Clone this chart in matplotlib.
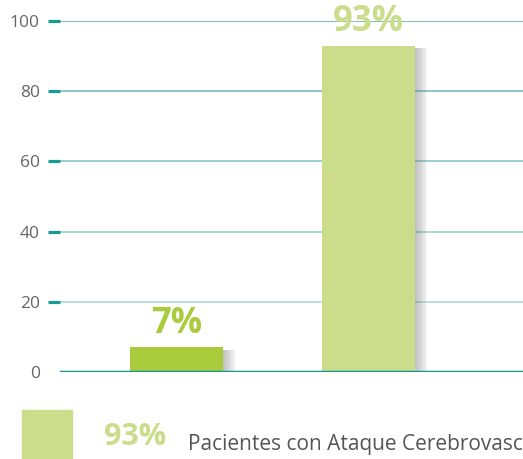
import matplotlib.pyplot as plt
import matplotlib.patheffects as path_effects
import numpy as np

# --- data ---
categories = ["No", "Sí"]
values = [7, 93]
labels = ["7%", "93%"]
bar_colors = ["#a9cb3c", "#cbdd8a"]
yticks = [0, 20, 40, 60, 80, 100]
legend_pct = "93%"
legend_text = "Pacientes con Ataque Cerebrovascular"

plt.rcParams['font.family'] = ['Open Sans', 'DejaVu Sans']

fig = plt.figure(figsize=(5.23, 4.59), dpi=100)
ax = fig.add_axes([60/523, 87/459, 463/523, 351/459])

x = np.arange(len(categories))
bars = ax.bar(x, values, width=93/192, color=bar_colors, zorder=3)

# soft shadow on the right side of each bar
shadow = [path_effects.SimplePatchShadow(offset=(d, -1.5), shadow_rgbFace='#777777', alpha=0.06)
          for d in range(1, 10)]
for b in bars:
    b.set_path_effects(shadow + [path_effects.Normal()])

for xi, v, lab, c in zip(x, values, labels, bar_colors):
    ax.annotate(lab, (xi, v), xytext=(0, 10.5), textcoords='offset points',
                ha='center', va='baseline', fontsize=25, fontweight='bold',
                color=c, annotation_clip=False, zorder=5)

ax.set_xlim(-0.607, 1.805)
ax.set_ylim(0, 100)

# gridlines
grid_colors = ["#b3dcdc", "#a2d2d2", "#93cacb", "#84c2c1", "#74b9b6"]
for yv, gc in zip(yticks[1:], grid_colors):
    ax.axhline(yv, color=gc, lw=1.3, zorder=1)
ax.axhline(0, color="#109a90", lw=2.5, zorder=4)

ax.set_yticks(yticks)
ax.set_yticklabels([str(t) for t in yticks], fontsize=12.5, color="#666666")
ax.tick_params(axis='y', length=8.5, width=2.3, color="#179c94", pad=6, direction='out')
ax.yaxis.get_major_ticks()[0].tick1line.set_visible(False)
ax.set_xticks([])
for s in ax.spines.values():
    s.set_visible(False)

# legend
fig.patches.append(plt.Rectangle((22/523, 0), 50/523, 49/459, transform=fig.transFigure,
                                  color="#cbdd8a", figure=fig))
fig.text(104/523, 14/459, legend_pct, fontsize=22, fontweight='bold', color="#cbdd8a",
         ha='left', va='baseline')
fig.text(188/523, 9/459, legend_text, fontsize=15, color="#555555", ha='left', va='baseline')

fig.savefig("out.png", dpi=100)
